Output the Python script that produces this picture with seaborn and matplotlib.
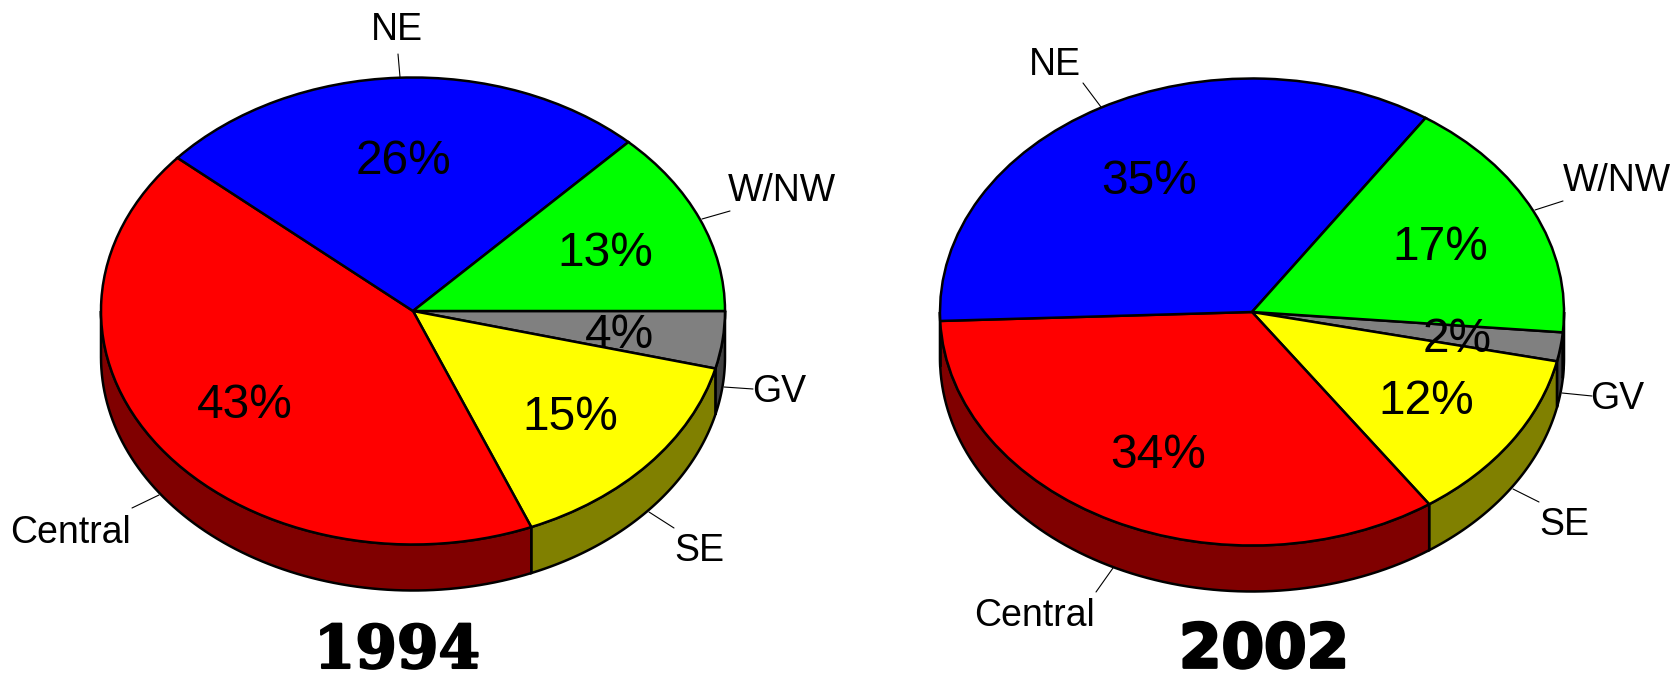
import numpy as np
import seaborn as sns
from matplotlib import pyplot as plt
from matplotlib import patheffects as pe

regions = ["GV", "SE", "Central", "NE", "W/NW"]
share_1994 = [4, 15, 43, 26, 13]
share_2002 = [2, 12, 34, 35, 17]
colors = ["#808080", "#ffff00", "#ff0000", "#0000ff", "#00ff00"]
years = ["1994", "2002"]

# everything below is placed in pixels of the 1681x678 picture
W, H = 1681, 678
RX, RY, DEPTH = 312, 233.5, 46
LW = 1.8

sns.set_theme(style="white")
plt.rcParams['font.family'] = ['Liberation Sans', 'DejaVu Sans']
palette = sns.color_palette(colors)


def px(x, y):
    return x / RX, -y / RY


def draw_pie(ax, values, cx, cy, start):
    center = px(cx, cy)
    ax.pie(values, colors=palette, startangle=start, counterclock=False,
           center=center, radius=1,
           wedgeprops=dict(edgecolor="black", linewidth=LW, zorder=3))
    # side wall, only the part of every slice that faces the viewer
    drop = DEPTH / RY
    fr = np.cumsum([0] + list(values)) / sum(values)
    for i, col in enumerate(palette):
        a0 = start - 360 * fr[i + 1]
        a1 = start - 360 * fr[i]
        for shift in (0, -360):
            lo = max(a0 - shift, -180)
            hi = min(a1 - shift, 0)
            if hi <= lo:
                continue
            t = np.radians(np.linspace(lo, hi, 80))
            xs = center[0] + np.cos(t)
            ys = center[1] + np.sin(t)
            ax.fill(np.r_[xs, xs[::-1]], np.r_[ys, ys[::-1] - drop],
                    facecolor=tuple(c * 0.5 for c in col), edgecolor="black",
                    linewidth=LW, zorder=2)


def leader(ax, x0, y0, x1, y1):
    xa, ya = px(x0, y0)
    xb, yb = px(x1, y1)
    ax.plot([xa, xb], [ya, yb], color="black", lw=0.8, zorder=1)


def label(ax, x, y, s, size):
    xa, ya = px(x, y)
    ax.text(xa, ya, s, ha="center", va="center", fontsize=size, color="black", zorder=5)


fig = plt.figure(figsize=(W / 100, H / 100), dpi=100)
ax = fig.add_axes([0, 0, 1, 1])

draw_pie(ax, share_1994, 413, 311, 0)
draw_pie(ax, share_2002, 1252, 312, -5)

pct_pos_1994 = [(620, 335), (570, 418), (245, 405), (404, 161), (605, 254)]
pct_pos_2002 = [(1457, 339), (1426, 401), (1158, 455), (1149, 182), (1440, 248)]
for vals, pos in ((share_1994, pct_pos_1994), (share_2002, pct_pos_2002)):
    for v, (x, y) in zip(vals, pos):
        label(ax, x, y, f"{v}%", 34.5)

name_pos_1994 = [(779, 392), (699, 551), (71, 533), (397, 30), (782, 191)]
name_pos_2002 = [(1617, 399), (1564, 525), (1035, 616), (1055, 65), (1617, 181)]
for pos in (name_pos_1994, name_pos_2002):
    for name, (x, y) in zip(regions, pos):
        label(ax, x, y, name, 27)

for seg in [(753, 389, 724, 387), (674, 528, 649, 512), (132, 508, 159, 495),
            (398, 54, 400, 77), (730, 211, 702, 219),
            (1592, 396, 1562, 393), (1539, 502, 1513, 489), (1096, 592, 1113, 568),
            (1083, 83, 1101, 107), (1563, 201, 1535, 210)]:
    leader(ax, *seg)

xa, ya = px(397, 651)
ax.text(xa, ya, years[0], ha="center", va="center", fontsize=43, family="DejaVu Serif",
        fontweight="bold", color="black",
        path_effects=[pe.withStroke(linewidth=1.5, foreground="black")])
xa, ya = px(1264, 651)
ax.text(xa, ya, years[1], ha="center", va="center", fontsize=44, family="DejaVu Sans",
        fontweight="bold", color="black",
        path_effects=[pe.withStroke(linewidth=2, foreground="black")])

ax.set_aspect("auto")
ax.set_xlim(0, W / RX)
ax.set_ylim(-H / RY, 0)
ax.axis("off")

fig.savefig("out.png", dpi=100, facecolor="white")
